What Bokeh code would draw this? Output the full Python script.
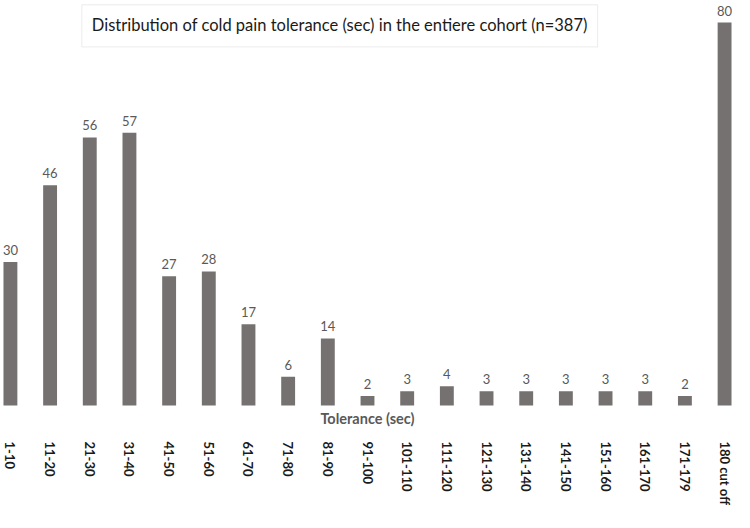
from bokeh.plotting import figure
from bokeh.models import Range1d, FixedTicker, Label, BoxAnnotation, ColumnDataSource
from bokeh.core.properties import value
from bokeh.embed import file_html
from bokeh.resources import INLINE
import math

categories = ["1-10", "11-20", "21-30", "31-40", "41-50", "51-60", "61-70", "71-80",
              "81-90", "91-100", "101-110", "111-120", "121-130", "131-140", "141-150",
              "151-160", "161-170", "171-179", "180 cut off"]
counts = [30, 46, 56, 57, 27, 28, 17, 6, 14, 2, 3, 4, 3, 3, 3, 3, 3, 2, 80]
title_text = "Distribution of cold pain tolerance (sec) in the entiere cohort (n=387)"
x_label = "Tolerance (sec)"

idx = list(range(len(categories)))
src = ColumnDataSource(dict(x=idx, top=counts, lab=[str(c) for c in counts]))

p = figure(width=734, height=512, output_backend="svg", toolbar_location=None,
           x_range=Range1d(-0.25, 18.25), y_range=Range1d(-5.22, 84.6),
           y_axis_location=None, min_border_left=0, min_border_right=0,
           min_border_top=0, min_border_bottom=82)
p.outline_line_color = None
p.xgrid.visible = False
p.ygrid.visible = False
p.background_fill_color = "white"
p.border_fill_color = "white"

p.vbar(x="x", top="top", bottom=0, width=0.35, source=src,
       fill_color="#767171", line_color=None)
p.text(x="x", y="top", text="lab", source=src, y_offset=-7,
       text_align="center", text_baseline="bottom",
       text_font=value("Lato"), text_font_size="13px", text_color="#595959")

ax = p.xaxis[0]
ax.ticker = FixedTicker(ticks=idx)
ax.major_label_overrides = {i: c for i, c in zip(idx, categories)}
ax.major_label_orientation = -math.pi / 2
ax.major_label_text_font = "Lato"
ax.major_label_text_font_style = "bold"
ax.major_label_text_font_size = "13px"
ax.major_label_text_color = "#1a1a1a"
ax.major_label_standoff = 5
ax.axis_line_color = None
ax.major_tick_line_color = None
ax.minor_tick_line_color = None

p.add_layout(Label(x=9, y=-2.7, text=x_label, text_align="center",
                   text_baseline="middle", text_font="Lato", text_font_style="bold",
                   text_font_size="14.5px", text_color="#595959"))

p.add_layout(BoxAnnotation(left=1.8, right=14.8, bottom=74.9, top=83.7,
                           fill_color="white", fill_alpha=1.0,
                           line_color="#bfbfbf", line_width=1))
p.add_layout(Label(x=8.3, y=79.4, text=title_text, text_align="center",
                   text_baseline="middle", text_font="Lato",
                   text_font_size="16.5px", text_color="#1a1a1a"))

open("out.html", "w").write(file_html(p, INLINE))
